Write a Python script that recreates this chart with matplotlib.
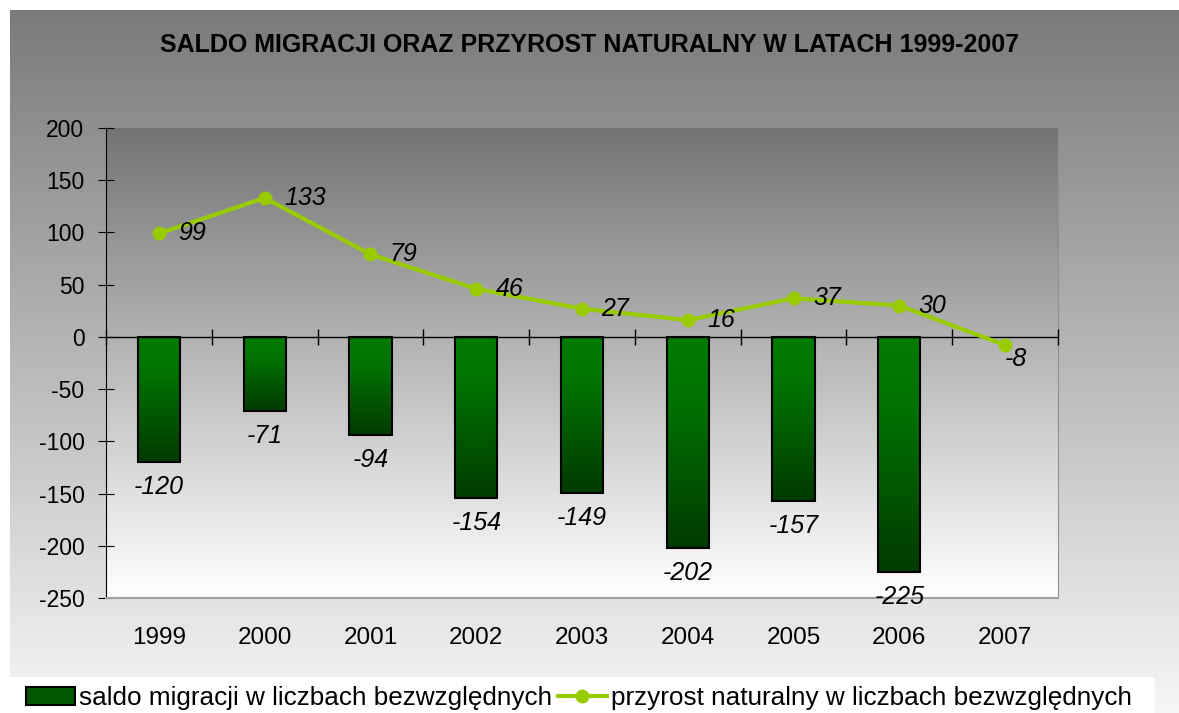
import numpy as np
import matplotlib
matplotlib.use("Agg")
import matplotlib.pyplot as plt
from matplotlib.colors import LinearSegmentedColormap
from matplotlib.patches import Patch, Rectangle
from matplotlib.lines import Line2D

plt.rcParams["font.family"] = ["Liberation Sans", "DejaVu Sans"]
plt.rcParams["axes.unicode_minus"] = False

years = ["1999", "2000", "2001", "2002", "2003", "2004", "2005", "2006", "2007"]
saldo = [-120, -71, -94, -154, -149, -202, -157, -225, None]
przyrost = [99, 133, 79, 46, 27, 16, 37, 30, -8]

title = "SALDO MIGRACJI ORAZ PRZYROST NATURALNY W LATACH 1999-2007"
label_bar = "saldo migracji w liczbach bezwzględnych"
label_line = "przyrost naturalny w liczbach bezwzględnych"

W, H = 1179, 713
fig = plt.figure(figsize=(W / 100, H / 100), dpi=100)
fig.patch.set_facecolor("white")

# chart area background (vertical grey gradient)
bg = fig.add_axes([10 / W, 0, 1 - 10 / W, 1 - 10 / H])
bg.set_axis_off()
grey_bg = LinearSegmentedColormap.from_list("bg", ["#f6f6f6", "#7a7a7a"])
bg.imshow(np.linspace(0, 1, 256).reshape(-1, 1)[::-1], cmap=grey_bg, aspect="auto",
          extent=[0, 1, 0, 1], origin="upper")
# white legend strip
bg.add_patch(Rectangle((0, 0), (1155 - 10) / (W - 10), (H - 677) / (H - 10),
                       transform=bg.transAxes, facecolor="white", edgecolor="none"))

# plot area
left, right, top, bottom = 106, 1058, 128, 598
ax = fig.add_axes([left / W, 1 - bottom / H, (right - left) / W, (bottom - top) / H])
ax.set_facecolor("none")
x = np.arange(len(years))
ax.set_xlim(-0.5, len(years) - 0.5)
ax.set_ylim(-250, 200)

grey_pa = LinearSegmentedColormap.from_list("pa", ["#ffffff", "#747474"])
ax.imshow(np.linspace(0, 1, 256).reshape(-1, 1)[::-1], cmap=grey_pa, aspect="auto",
          extent=[-0.5, len(years) - 0.5, -250, 200], origin="upper", zorder=0)

# bars with green gradient
bar_x = [i for i, v in enumerate(saldo) if v is not None]
bar_v = [v for v in saldo if v is not None]
bars = ax.bar(bar_x, bar_v, width=0.4, facecolor="none", edgecolor="black",
              linewidth=1.5, zorder=3)
green = LinearSegmentedColormap.from_list("gr", [(0, "#007c00"), (0.3, "#007200"), (1, "#003a00")])
for b in bars:
    x0, w, h = b.get_x(), b.get_width(), b.get_height()
    im = ax.imshow(np.linspace(0, 1, 256).reshape(-1, 1), cmap=green, aspect="auto",
                   extent=[x0, x0 + w, h, 0], origin="upper", zorder=2)
    im.set_clip_path(b)

for xi, v in zip(bar_x, bar_v):
    ax.annotate(str(v), (xi, v), xytext=(0, -18), textcoords="offset points",
                ha="center", va="center", fontsize=18, style="italic", zorder=6)

# zero line with category ticks
ax.axhline(0, color="black", linewidth=1, zorder=4)
bounds = np.arange(len(years) + 1) - 0.5
ax.plot(bounds, np.zeros(len(bounds)), ls="none", marker="|", markersize=12,
        color="black", mew=1, zorder=4, clip_on=False)

# line
ax.plot(x, przyrost, color="#99cc00", linewidth=3, marker="o", markersize=9, zorder=5)
for xi, v in zip(x, przyrost):
    if v < 0:
        ax.annotate(str(v), (xi, v), xytext=(0, -10), textcoords="offset points",
                    ha="left", va="center", fontsize=18, style="italic", zorder=6)
    else:
        ax.annotate(str(v), (xi, v), xytext=(14, 0), textcoords="offset points",
                    ha="left", va="center", fontsize=18, style="italic", zorder=6)

# axes styling
ax.spines["top"].set_visible(False)
ax.spines["left"].set_color("black")
ax.spines["right"].set_color("#909090")
ax.spines["bottom"].set_color("#a0a0a0")
ax.spines["bottom"].set_linewidth(1.5)
ax.set_yticks(np.arange(-250, 201, 50))
ax.tick_params(axis="y", direction="inout", length=12, labelsize=16.5, pad=9.5)
ax.set_xticks(x)
ax.set_xticklabels(years)
ax.tick_params(axis="x", length=0, labelsize=17.5, pad=21)

fig.text(590 / W, 1 - 45 / H, title, ha="center", va="center", fontsize=18,
         fontweight="bold")

handles = [Patch(facecolor="#005500", edgecolor="black", linewidth=1.5),
           Line2D([], [], color="#99cc00", linewidth=3, marker="o", markersize=9)]
fig.legend(handles, [label_bar, label_line], loc="center", ncol=2,
           bbox_to_anchor=(579 / W, 1 - 698 / H), frameon=False, fontsize=18.8,
           handlelength=1.9, handletextpad=0.15, columnspacing=0.2,
           borderaxespad=0, borderpad=0)

fig.savefig("out.png", dpi=100)
